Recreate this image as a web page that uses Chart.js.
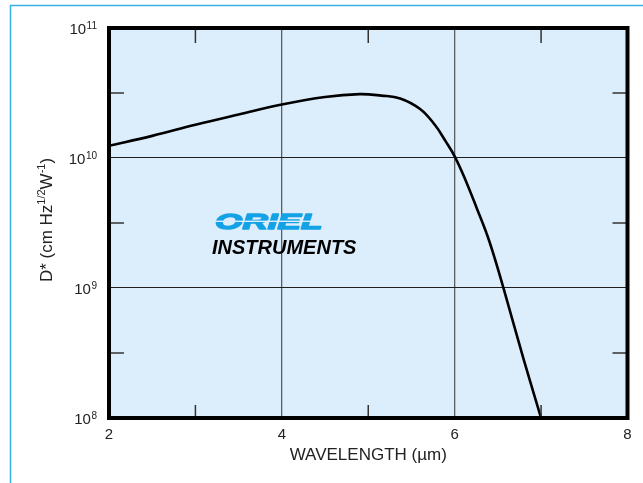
<!DOCTYPE html>
<html>
<head>
<meta charset="utf-8">
<script src="https://cdn.jsdelivr.net/npm/chart.js@4"></script>
<style>
  html, body { margin: 0; padding: 0; background: #fff; }
  canvas { display: block; }
</style>
</head>
<body>
<canvas id="myChart" width="643" height="483"></canvas>
<script>
// detectivity curve (wavelength in um, D* in cm Hz^1/2 W^-1)
var wavelength = [2.0, 2.5, 3.0, 3.5, 4.0, 4.5, 4.9, 5.15, 5.37, 5.6, 5.77, 5.9, 6.0, 6.12, 6.25, 6.4, 6.57, 6.8, 7.0];
var dStar = [1.24e10, 1.48e10, 1.80e10, 2.16e10, 2.58e10, 2.95e10, 3.1e10, 3.02e10, 2.87e10, 2.38e10, 1.80e10, 1.33e10, 1.03e10, 6.9e9, 4.2e9, 2.3e9, 9.7e8, 2.8e8, 1.0e8];

var xTickLabels = [2, 4, 6, 8];
var xGridValues = [4, 6];
var xMinorTicks = [3, 5, 7];
var yExponents = [8, 9, 10, 11];
var yMinorExponents = [8.5, 9.5, 10.5];

var FONT = '"Liberation Sans", Arial, sans-serif';
var points = [];
for (var i = 0; i < wavelength.length; i++) {
  points.push({ x: wavelength[i], y: dStar[i] });
}

// frame, plot background, border, inner ticks, y labels and the logo
var decorPlugin = {
  id: 'decor',
  beforeDraw: function(chart) {
    var ctx = chart.ctx;
    var a = chart.chartArea;
    ctx.save();
    ctx.fillStyle = '#fff';
    ctx.fillRect(0, 0, chart.width, chart.height);
    ctx.strokeStyle = '#36b0e6';
    ctx.lineWidth = 1.5;
    ctx.beginPath();
    ctx.moveTo(10.5, chart.height);
    ctx.lineTo(10.5, 5.5);
    ctx.lineTo(chart.width, 5.5);
    ctx.stroke();
    ctx.fillStyle = '#dcedfb';
    ctx.fillRect(a.left, a.top, a.right - a.left, a.bottom - a.top);
    ctx.restore();
  },
  afterDraw: function(chart) {
    var ctx = chart.ctx;
    var a = chart.chartArea;
    var xs = chart.scales.x;
    var ys = chart.scales.y;
    ctx.save();

    // short inward ticks
    ctx.strokeStyle = '#333';
    ctx.lineWidth = 1.5;
    ctx.beginPath();
    xMinorTicks.forEach(function(v) {
      var px = xs.getPixelForValue(v);
      ctx.moveTo(px, a.top); ctx.lineTo(px, a.top + 15);
      ctx.moveTo(px, a.bottom); ctx.lineTo(px, a.bottom - 13);
    });
    yMinorExponents.forEach(function(e) {
      var py = ys.getPixelForValue(Math.pow(10, e));
      ctx.moveTo(a.left, py); ctx.lineTo(a.left + 15, py);
      ctx.moveTo(a.right, py); ctx.lineTo(a.right - 15, py);
    });
    ctx.stroke();

    // heavy box
    ctx.strokeStyle = '#000';
    ctx.lineWidth = 4;
    ctx.strokeRect(a.left, a.top, a.right - a.left, a.bottom - a.top);

    // y tick labels as 10 with superscript exponent
    ctx.fillStyle = '#222';
    ctx.textAlign = 'right';
    ctx.textBaseline = 'alphabetic';
    yExponents.forEach(function(e) {
      var py = ys.getPixelForValue(Math.pow(10, e));
      ctx.font = '10px ' + FONT;
      var sup = String(e);
      var supW = ctx.measureText(sup).width;
      ctx.fillText(sup, 97, py + 1);
      ctx.font = '15px ' + FONT;
      ctx.fillText('10', 97 - supW - 0.5, py + 6);
    });

    // y title, rotated, with superscripts
    var parts = [['D* (cm Hz', false], ['1/2', true], ['W', false], ['-1', true], [')', false]];
    ctx.translate(46, (a.top + a.bottom) / 2 - 3);
    ctx.rotate(-Math.PI / 2);
    ctx.textAlign = 'left';
    var total = 0;
    parts.forEach(function(p) {
      ctx.font = (p[1] ? '11px ' : '17px ') + FONT;
      total += ctx.measureText(p[0]).width;
    });
    var cx = -total / 2;
    parts.forEach(function(p) {
      ctx.font = (p[1] ? '11px ' : '17px ') + FONT;
      ctx.fillText(p[0], cx, p[1] ? -1 : 6);
      cx += ctx.measureText(p[0]).width;
    });
    ctx.restore();

    // logo
    ctx.save();
    ctx.textAlign = 'left';
    ctx.textBaseline = 'alphabetic';
    ctx.fillStyle = '#14a2e6';
    ctx.strokeStyle = '#14a2e6';
    ctx.lineWidth = 1.4;
    ctx.lineJoin = 'round';
    ctx.font = 'italic bold 22px ' + FONT;
    ctx.translate(215, 229);
    ctx.scale(1.6, 1);
    ctx.fillText('ORIEL', 0, 0);
    ctx.strokeText('ORIEL', 0, 0);
    ctx.restore();
    ctx.save();
    ctx.fillStyle = '#dcedfb';
    ctx.fillRect(212, 220.6, 122, 1.4);
    ctx.fillStyle = '#000';
    ctx.font = 'italic bold 20px ' + FONT;
    ctx.textBaseline = 'alphabetic';
    ctx.fillText('INSTRUMENTS', 212, 254);
    ctx.restore();
  }
};

new Chart(document.getElementById('myChart').getContext('2d'), {
  type: 'line',
  data: {
    datasets: [{
      data: points,
      borderColor: '#000',
      borderWidth: 2.6,
      pointRadius: 0,
      fill: false,
      tension: 0.4
    }]
  },
  options: {
    responsive: false,
    animation: false,
    devicePixelRatio: 1,
    layout: { padding: { left: 0, top: 28, right: 15.5, bottom: 0 } },
    plugins: {
      legend: { display: false },
      tooltip: { enabled: false }
    },
    scales: {
      x: {
        type: 'linear',
        min: 2,
        max: 8,
        afterFit: function(scale) { scale.height = 65; },
        border: { display: false },
        grid: {
          drawTicks: false,
          lineWidth: 1.3,
          color: function(c) {
            return c.tick && xGridValues.indexOf(c.tick.value) >= 0 ? '#5a5f66' : 'rgba(0,0,0,0)';
          }
        },
        ticks: {
          stepSize: 1,
          padding: 8,
          color: '#222',
          font: { family: FONT, size: 15 },
          maxRotation: 0,
          autoSkip: false,
          callback: function(v) { return xTickLabels.indexOf(v) >= 0 ? String(v) : ''; }
        },
        title: {
          display: true,
          text: 'WAVELENGTH (µm)',
          color: '#222',
          font: { family: FONT, size: 17 },
          padding: { top: 0, bottom: 17 }
        }
      },
      y: {
        type: 'logarithmic',
        min: 1e8,
        max: 1e11,
        afterFit: function(scale) { scale.width = 109; },
        afterBuildTicks: function(scale) {
          scale.ticks = yExponents.map(function(e) { return { value: Math.pow(10, e) }; });
        },
        border: { display: false },
        grid: { drawTicks: false, color: '#1e1e1e', lineWidth: 1.1 },
        ticks: { display: false }
      }
    }
  },
  plugins: [decorPlugin]
});
</script>
</body>
</html>
